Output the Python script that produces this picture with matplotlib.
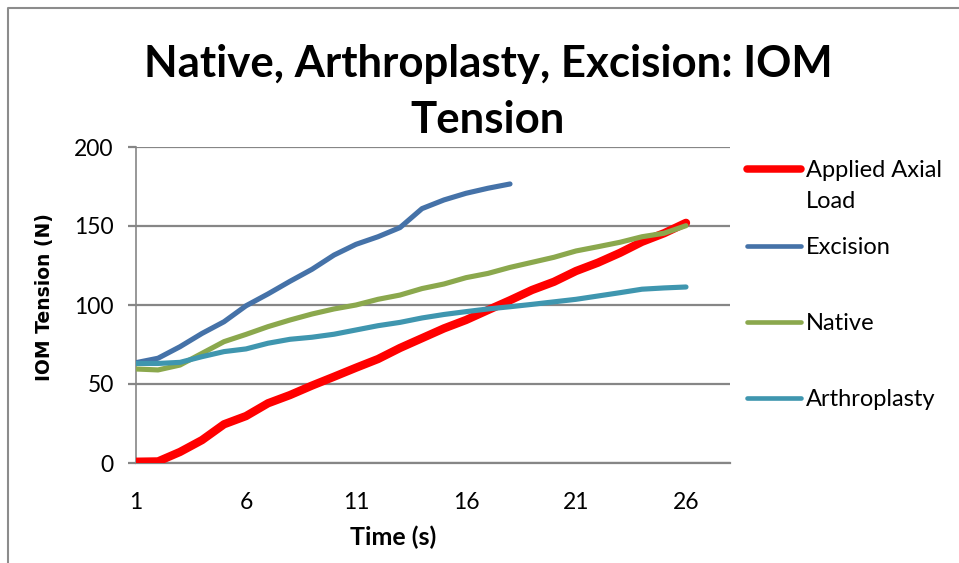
import matplotlib
matplotlib.use("Agg")
import matplotlib.pyplot as plt
from matplotlib.lines import Line2D

time_s = list(range(1, 27))
applied_axial_load = [0.8, 1, 7, 14.5, 24.5, 29.7, 37.8, 43, 49, 54.6, 60.3, 65.8, 72.8, 79, 85.2, 90.5,
                      96.8, 103, 109.5, 114.7, 121.5, 126.8, 133, 140, 145.4, 152]
excision = [63.5, 66.3, 73.6, 82, 89.4, 99.5, 107, 115, 122.6, 131.6, 138.4, 143.2, 149, 161, 166.5,
            170.7, 173.9, 176.6]
native = [59.5, 58.9, 62, 69.4, 76.8, 81.4, 86.3, 90.5, 94.3, 97.5, 100, 103.6, 106.3, 110.4, 113.3,
          117.3, 120, 123.8, 127, 130.2, 134.2, 136.9, 139.7, 143.2, 145.4, 150.2]
arthroplasty = [63, 63, 63.7, 67.3, 70.5, 72.2, 75.8, 78.3, 79.6, 81.5, 84.2, 86.9, 89, 91.8, 94,
                95.8, 97.5, 98.9, 100.4, 102, 103.6, 105.7, 107.8, 110, 110.8, 111.4]
series_names = ["Applied Axial\nLoad", "Excision", "Native", "Arthroplasty"]
series_values = [applied_axial_load, excision, native, arthroplasty]
colors = ["#FF0000", "#4572A8", "#8BA84D", "#3F96AF"]
widths = [6.0, 3.7, 3.7, 3.7]
x_ticks = [1, 6, 11, 16, 21, 26]
y_ticks = [0, 50, 100, 150, 200]

W, H = 959, 563
fig = plt.figure(figsize=(W / 100, H / 100), dpi=100)
fig.patch.set_facecolor("white")

L, R, T, B = 136, 730, 147, 463
ax = fig.add_axes([L / W, (H - B) / H, (R - L) / W, (B - T) / H])
ax.set_xlim(1, 28)
ax.set_ylim(0, 200)

for vals, c, lw in zip(series_values, colors, widths):
    ax.plot(time_s[:len(vals)], vals, color=c, lw=lw, solid_capstyle="round",
            solid_joinstyle="round", zorder=3)

grid_c = "#868686"
ax.set_yticks(y_ticks)
ax.set_xticks(x_ticks)
ax.yaxis.grid(True, color=grid_c, lw=1.6)
ax.set_axisbelow(True)
for s in ["top", "right"]:
    ax.spines[s].set_visible(False)
ax.spines["left"].set_color(grid_c)
ax.spines["left"].set_linewidth(1.2)
ax.spines["bottom"].set_color(grid_c)
ax.spines["bottom"].set_linewidth(1.6)
ax.spines["left"].set_zorder(1)

fam = "Lato"
ax.tick_params(axis="y", length=6, width=1.6, color=grid_c, pad=10, labelsize=16.5)
ax.tick_params(axis="x", length=0, pad=21, labelsize=16.5)
for lab in ax.get_xticklabels() + ax.get_yticklabels():
    lab.set_fontfamily(fam)

fig.text(488 / W, 1 - 64 / H, "Native, Arthroplasty, Excision: IOM", ha="center", va="center",
         fontsize=31.5, fontweight="bold", family=fam)
fig.text(488 / W, 1 - 120 / H, "Tension", ha="center", va="center",
         fontsize=31.5, fontweight="bold", family=fam)
fig.text(45 / W, 1 - 297 / H, "IOM Tension (N)", rotation=90, ha="center", va="center",
         fontsize=13.5, fontweight="bold", family="DejaVu Sans")
fig.text(393 / W, 1 - 537 / H, "Time (s)", ha="center", va="center",
         fontsize=18, fontweight="bold", family=fam)

# legend
leg_y = [169, 246, 322, 398]
for name, c, lw, y in zip(series_names, colors, widths, leg_y):
    fig.add_artist(Line2D([747 / W, 801 / W], [1 - y / H, 1 - y / H], color=c, lw=lw * 0.9,
                          solid_capstyle="round", transform=fig.transFigure))
    fig.text(806 / W, 1 - (y - 9) / H, name, ha="left", va="top", fontsize=17, family=fam,
             linespacing=1.6)

# border
fig.add_artist(Line2D([8 / W, 8 / W, 1], [0, 1 - 8 / H, 1 - 8 / H], color="#8c8c8c", lw=1.5,
                      transform=fig.transFigure))

fig.savefig("out.png", dpi=100)
